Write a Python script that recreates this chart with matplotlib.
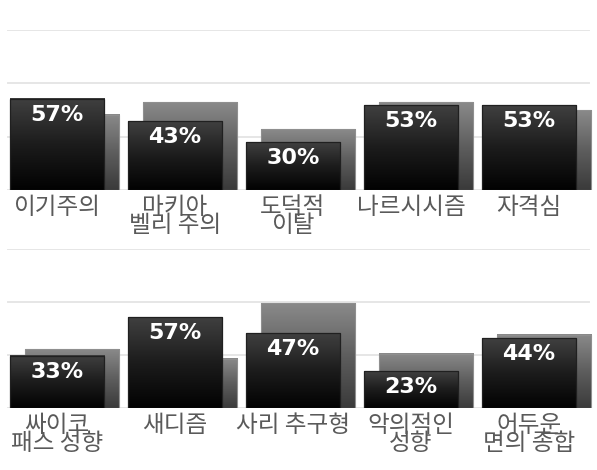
import numpy as np
import matplotlib
matplotlib.use('Agg')
import matplotlib.pyplot as plt
from matplotlib.colors import LinearSegmentedColormap

# 데이터
categories_top = ['이기주의', '마키아\n벨리 주의', '도덕적\n이탈', '나르시시즘', '자격심']
front_top = [57, 43, 30, 53, 53]
back_top = [47, 55, 38, 55, 50]

categories_bottom = ['싸이코\n패스 성향', '새디즘', '사리 추구형', '악의적인\n성향', '어두운\n면의 종합']
front_bottom = [33, 57, 47, 23, 44]
back_bottom = [37, 31, 66, 34, 46]

grid_ticks = [0, 100 / 3, 200 / 3, 100]

front_cmap = LinearSegmentedColormap.from_list('front', ['#020202', '#1c1c1c', '#404040'])
back_cmap = LinearSegmentedColormap.from_list('back', ['#3a3a3a', '#5e5e5e', '#8a8a8a'])
grad = np.linspace(0, 1, 256).reshape(-1, 1)


def fill_gradient(ax, bars, cmap, z):
    # 막대마다 세로 그라데이션을 채운다
    for b in bars:
        x, y = b.get_xy()
        w, h = b.get_width(), b.get_height()
        ax.imshow(grad, extent=(x, x + w, y, y + h), origin='lower', cmap=cmap,
                  aspect='auto', zorder=z, interpolation='bicubic')


def draw_panel(ax, cats, front, back):
    xs = np.arange(len(cats))
    width = 0.8
    offset = 0.128

    for g in grid_ticks:
        ax.axhline(g, xmin=0.005, xmax=0.99, color='#e6e6e6', linewidth=1.4, zorder=0)

    back_bars = ax.bar(xs + offset, back, width=width, facecolor='none',
                       edgecolor='#8f8f8f', linewidth=0.8, zorder=2.1)
    fill_gradient(ax, back_bars, back_cmap, 2)

    front_bars = ax.bar(xs, front, width=width, facecolor='none',
                        edgecolor='#202020', linewidth=0.9, zorder=4.1)
    fill_gradient(ax, front_bars, front_cmap, 4)

    for x, v in zip(xs, front):
        ax.annotate(f'{v}%', xy=(x, v), xytext=(0, -11.5), textcoords='offset points',
                    ha='center', va='center', color='white', fontsize=16,
                    fontweight='bold', family='DejaVu Sans', zorder=6)

    ax.set_xlim(-0.44, len(cats) - 0.44)
    ax.set_ylim(0, 100)
    ax.set_xticks(xs)
    ax.set_xticklabels(cats, family=['Noto Sans CJK KR', 'DejaVu Sans'], fontsize=17,
                       color='#5a5a5a', linespacing=0.72)
    ax.tick_params(axis='x', length=0, pad=4)
    ax.set_yticks([])
    for s in ax.spines.values():
        s.set_visible(False)
    ax.patch.set_alpha(0)


fig = plt.figure(figsize=(5.97, 4.70), dpi=100)
ax1 = fig.add_axes([5 / 597, 1 - 190 / 470, 590 / 597, 160 / 470])
ax2 = fig.add_axes([5 / 597, 1 - 408 / 470, 590 / 597, 159 / 470])

draw_panel(ax1, categories_top, front_top, back_top)
draw_panel(ax2, categories_bottom, front_bottom, back_bottom)

fig.savefig('out.png', dpi=100)
